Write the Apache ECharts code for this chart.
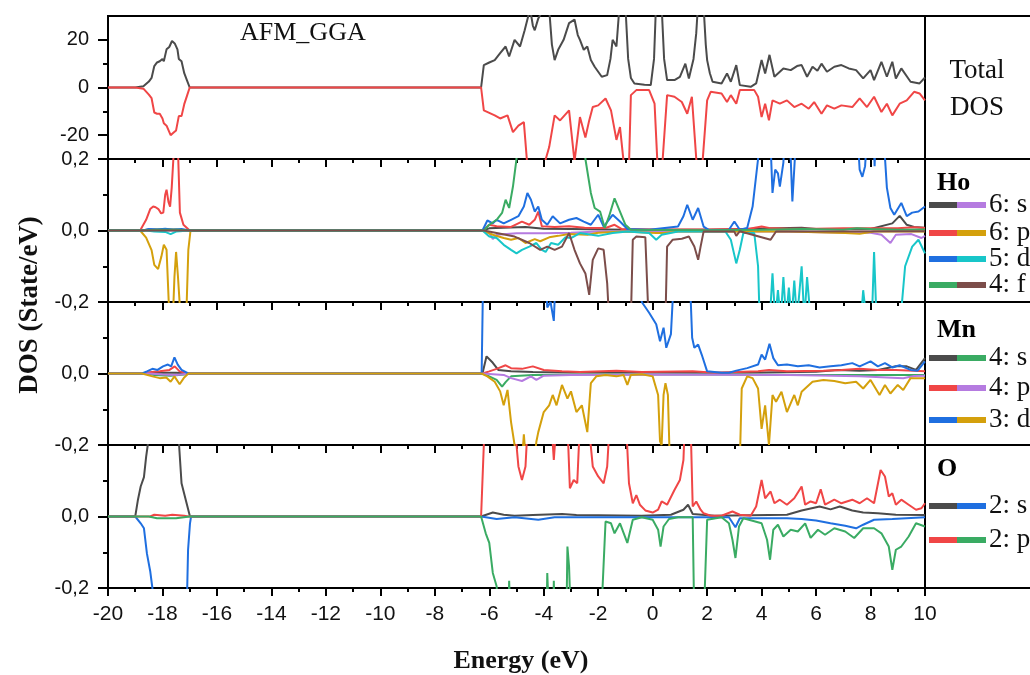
<!DOCTYPE html>
<html>
<head>
<meta charset="utf-8">
<script src="https://cdn.jsdelivr.net/npm/echarts@6/dist/echarts.min.js"></script>
<style>
  html, body { margin: 0; padding: 0; background: #fff; }
  #chart { width: 1030px; height: 675px; }
</style>
</head>
<body>
<div id="chart"></div>
<script>
// ---------- Data: [energy (eV), DOS] pairs ----------

// Total DOS (States/eV), spin up / spin down
const totalUp = [[-20,0],[-19.0,0],[-18.7,0.5],[-18.5,2.5],[-18.4,4],[-18.3,9],[-18.2,10.5],[-18.1,11],[-18.0,12],[-17.95,11],[-17.85,16],[-17.75,17],[-17.65,19.5],[-17.55,18.5],[-17.45,16],[-17.4,12],[-17.3,11],[-17.2,6],[-17.1,3],[-17.0,0],
  [-6.3,0],[-6.2,9.4],[-6.0,10.5],[-5.8,11.5],[-5.6,14.4],[-5.4,17.2],[-5.27,13],[-5.07,20],[-4.87,17.2],[-4.7,24],[-4.6,28.5],[-4.5,33],[-4.4,26],[-4.33,24],[-4.2,29],[-4.13,28.5],[-4.0,33],[-3.8,33],[-3.7,18],[-3.6,11.5],[-3.47,15.8],[-3.27,20],[-3.07,27],[-2.87,28.5],[-2.75,22],[-2.67,20],[-2.53,15.8],[-2.4,17.2],[-2.27,11.5],[-2.13,8.7],[-1.87,4.5],[-1.67,5.2],[-1.55,12],[-1.47,20],[-1.33,17.2],[-1.22,34],[-1.0,34],[-0.9,12],[-0.8,4],[-0.67,1.7],[-0.3,1.2],[-0.07,1],[0.05,12],[0.12,34],[0.33,34],[0.42,12],[0.53,3.1],[0.8,3.1],[1.0,4.5],[1.2,10],[1.33,3.8],[1.5,12],[1.6,22.8],[1.66,34],[1.87,34],[1.95,18],[2.0,11.5],[2.1,6],[2.2,2.4],[2.53,1.7],[2.73,5.9],[2.87,2.4],[3.07,9.4],[3.2,1],[3.6,0.3],[3.8,1.7],[4.0,11.5],[4.13,5.9],[4.29,13.7],[4.47,4.5],[4.8,8],[5.07,7.3],[5.3,9],[5.47,9.4],[5.67,4.5],[5.87,8.7],[6.05,7],[6.2,10],[6.4,6.6],[6.67,8.7],[6.93,9.4],[7.2,8],[7.47,7.3],[7.73,3.8],[8.0,7.3],[8.13,3.1],[8.4,10.8],[8.6,4.5],[8.8,10.8],[8.93,3.8],[9.13,8],[9.47,2.4],[9.8,1.7],[10,4.2]];
const totalDown = [[-20,0],[-19.0,0],[-18.7,-0.5],[-18.5,-3],[-18.4,-4.5],[-18.3,-10.5],[-18.2,-11],[-18.1,-11],[-18.0,-13],[-17.95,-15],[-17.85,-16],[-17.7,-20],[-17.6,-19],[-17.5,-18],[-17.4,-12],[-17.3,-12],[-17.2,-7],[-17.1,-3.5],[-17.0,0],
  [-6.3,0],[-6.2,-9.6],[-5.8,-11.7],[-5.6,-13],[-5.33,-11.7],[-5.13,-18.7],[-4.93,-16],[-4.73,-14.5],[-4.6,-33],[-4.0,-33],[-3.8,-25],[-3.6,-11.7],[-3.4,-13.8],[-3.07,-9.6],[-2.87,-31],[-2.67,-12.4],[-2.47,-21],[-2.33,-13.8],[-2.2,-8.2],[-2.0,-7.5],[-1.73,-4.6],[-1.53,-9.6],[-1.33,-22],[-1.2,-16.6],[-1.05,-33],[-0.87,-33],[-0.8,-3.2],[-0.6,-1.1],[-0.13,-1.1],[0.07,-6.8],[0.18,-33],[0.35,-33],[0.53,-3.2],[0.8,-3.9],[1.07,-6.1],[1.27,-11],[1.44,-3.9],[1.62,-33],[1.82,-33],[2.0,-5.4],[2.13,-1.8],[2.53,-2.5],[2.73,-6.1],[2.87,-3.2],[3.07,-6.8],[3.2,-1.1],[3.73,-1.1],[3.87,-3.9],[4.0,-12.4],[4.13,-6.8],[4.27,-13.8],[4.4,-5.4],[4.67,-6.8],[4.93,-5.4],[5.2,-8.2],[5.47,-6.8],[5.73,-8.9],[5.93,-6.1],[6.2,-11],[6.4,-7.5],[6.67,-8.9],[6.93,-7.5],[7.33,-8.2],[7.6,-4.6],[7.87,-8.2],[8.13,-3.9],[8.4,-10.3],[8.6,-6.8],[8.8,-11.7],[9.07,-6.8],[9.33,-5.4],[9.6,-1.8],[9.8,-2.5],[10,-5.4]];

// Ho partial DOS (up / down per orbital)
const hoSUp = [[-20,0],[-18.8,0],[-18.5,0.003],[-17.5,0.003],[-17.0,0],[-6.25,0],[-6.0,0.006],[-5.5,0.008],[-4.67,0.01],[-4.0,0.005],[-3.0,0.004],[-1.0,0.002],[2.0,0.002],[5.47,0.008],[6.0,0.004],[8.0,0.004],[8.8,0.02],[9.07,0.041],[9.33,0.016],[9.6,0.01],[10,0.008]];
const hoSDown = [[-20,0],[-6.25,0],[-6.0,-0.007],[-5.87,-0.024],[-5.73,-0.012],[-5.0,-0.008],[-4.0,-0.008],[-3.0,-0.006],[-2.0,-0.003],[0,-0.002],[5,-0.003],[7,-0.006],[8.0,-0.006],[8.4,-0.012],[8.73,-0.035],[8.93,-0.012],[9.5,-0.01],[9.87,-0.021],[10,-0.015]];
const hoPUp = [[-20,0],[-18.82,0],[-18.6,0.03],[-18.45,0.06],[-18.34,0.067],[-18.25,0.065],[-18.15,0.06],[-18.05,0.048],[-17.97,0.05],[-17.9,0.1],[-17.85,0.114],[-17.78,0.08],[-17.72,0.067],[-17.66,0.12],[-17.6,0.2],[-17.55,0.26],[-17.47,0.26],[-17.42,0.2],[-17.36,0.05],[-17.23,0.016],[-17.0,0],
  [-6.25,0],[-6.0,0.016],[-5.73,0.012],[-5.2,0.01],[-4.8,0.025],[-4.53,0.016],[-4.33,0.03],[-4.2,0.053],[-4.07,0.012],[-3.6,0.01],[-3.07,0.012],[-2.5,0.008],[-1.73,0.007],[-1.4,0.016],[-1.13,0.004],[0,0.003],[2.0,0.003],[3.5,0.004],[4.0,0.011],[4.27,0.007],[5.0,0.005],[6.0,0.005],[7.0,0.006],[8.0,0.006],[9.0,0.006],[9.6,0.009],[10,0.007]];
const hoPDown = [[-20,0],[-18.82,0],[-18.6,-0.02],[-18.4,-0.055],[-18.3,-0.096],[-18.16,-0.108],[-18.04,-0.073],[-17.95,-0.04],[-17.85,-0.054],[-17.77,-0.2],[-17.72,-0.25],[-17.62,-0.25],[-17.56,-0.13],[-17.5,-0.06],[-17.43,-0.13],[-17.33,-0.25],[-17.13,-0.25],[-17.05,-0.054],[-16.97,0],
  [-6.25,0],[-5.87,-0.012],[-5.47,-0.021],[-5.2,-0.026],[-4.93,-0.021],[-4.67,-0.035],[-4.33,-0.024],[-4.13,-0.03],[-3.8,-0.019],[-3.47,-0.015],[-3.07,-0.01],[-2.4,-0.012],[-2.0,-0.006],[-1.07,-0.003],[0.13,-0.007],[0.4,-0.007],[0.93,-0.003],[3,-0.002],[5,-0.003],[7.07,-0.007],[7.6,-0.009],[8.13,-0.003],[10,-0.003]];
const hoDUp = [[-20,0],[-18.7,0],[-18.5,0.004],[-18.2,0.003],[-17.9,0.005],[-17.6,0.002],[-17.3,0.004],[-17.0,0],
  [-6.25,0],[-6.07,0.028],[-5.87,0.02],[-5.73,0.03],[-5.47,0.02],[-5.2,0.03],[-4.93,0.04],[-4.73,0.067],[-4.6,0.105],[-4.47,0.086],[-4.33,0.053],[-4.2,0.067],[-4.07,0.03],[-3.87,0.016],[-3.67,0.04],[-3.4,0.02],[-3.07,0.03],[-2.8,0.035],[-2.53,0.025],[-2.27,0.016],[-2.0,0.044],[-1.8,0.011],[-1.47,0.044],[-1.2,0.025],[-0.93,0.004],[-0.13,0.002],[0.93,0.011],[1.13,0.04],[1.27,0.072],[1.47,0.03],[1.67,0.063],[1.87,0.011],[2.07,0.001],[2.8,0.002],[3.0,0.025],[3.2,0.002],[3.47,0.007],[3.67,0.067],[3.87,0.2],[3.95,0.3],[4.3,0.3],[4.4,0.105],[4.5,0.17],[4.6,0.16],[4.67,0.123],[4.8,0.19],[4.87,0.3],[5.0,0.3],[5.07,0.2],[5.13,0.081],[5.22,0.2],[5.3,0.3],[7.5,0.3],[7.6,0.17],[7.7,0.15],[7.8,0.18],[7.9,0.3],[8.1,0.3],[8.15,0.18],[8.2,0.3],[8.45,0.3],[8.6,0.12],[8.73,0.063],[8.87,0.044],[9.13,0.077],[9.33,0.04],[9.53,0.05],[9.76,0.053],[10,0.067]];
const hoDDown = [[-20,0],[-18.6,0],[-18.3,-0.003],[-17.9,-0.004],[-17.7,-0.01],[-17.5,-0.003],[-17.0,0],
  [-6.25,0],[-6.0,-0.017],[-5.73,-0.021],[-5.47,-0.04],[-5.2,-0.054],[-5.0,-0.064],[-4.8,-0.054],[-4.53,-0.045],[-4.27,-0.035],[-4.07,-0.054],[-3.93,-0.06],[-3.73,-0.035],[-3.47,-0.04],[-3.2,-0.019],[-3.0,-0.021],[-2.67,-0.007],[-2.0,-0.015],[-1.47,-0.007],[-0.93,-0.003],[-0.13,-0.007],[0.13,-0.026],[0.33,-0.012],[0.93,-0.003],[2.67,-0.003],[2.87,-0.026],[3.07,-0.092],[3.2,-0.054],[3.33,-0.007],[3.73,-0.007],[3.87,-0.1],[3.93,-0.25],[4.3,-0.25],[4.4,-0.12],[4.5,-0.25],[4.6,-0.167],[4.7,-0.25],[4.8,-0.13],[4.9,-0.25],[5.0,-0.16],[5.1,-0.25],[5.2,-0.14],[5.3,-0.25],[5.47,-0.1],[5.57,-0.25],[5.67,-0.13],[5.8,-0.25],[7.65,-0.25],[7.73,-0.167],[7.85,-0.25],[8.05,-0.25],[8.13,-0.06],[8.22,-0.25],[9.1,-0.25],[9.27,-0.1],[9.53,-0.045],[9.76,-0.026],[10,-0.064]];
const hoFUp = [[-20,0],[-18.7,0],[-18.2,0.002],[-17.4,0.002],[-17.0,0],
  [-6.2,0],[-6.0,0.016],[-5.73,0.03],[-5.53,0.049],[-5.4,0.086],[-5.27,0.063],[-5.13,0.123],[-5.0,0.2],[-4.9,0.3],[-2.55,0.3],[-2.47,0.2],[-2.27,0.105],[-2.13,0.063],[-1.93,0.053],[-1.76,0.007],[-1.6,0.04],[-1.4,0.09],[-1.2,0.053],[-1.0,0.016],[-0.8,0.002],[2,0.001],[4,0.002],[5.5,0.004],[7.0,0.002],[7.5,0.006],[8.0,0.004],[9.0,0.002],[10,0.003]];
const hoFDown = [[-20,0],[-6.2,0],[-5.73,-0.007],[-5.07,-0.017],[-4.53,-0.035],[-4.13,-0.054],[-3.87,-0.045],[-3.6,-0.054],[-3.33,-0.045],[-3.07,-0.007],[-2.87,-0.054],[-2.67,-0.092],[-2.47,-0.12],[-2.33,-0.18],[-2.2,-0.082],[-2.0,-0.05],[-1.8,-0.054],[-1.67,-0.148],[-1.6,-0.25],[-0.8,-0.25],[-0.73,-0.026],[-0.6,-0.017],[-0.27,-0.019],[-0.15,-0.25],[0.47,-0.25],[0.53,-0.045],[0.73,-0.026],[1.07,-0.023],[1.33,-0.017],[1.53,-0.045],[1.67,-0.082],[1.76,-0.045],[1.87,-0.003],[3.0,-0.003],[3.07,-0.015],[3.2,-0.002],[4.33,-0.026],[4.53,-0.003],[10,-0.002]];

// Mn partial DOS
const mnSUp = [[-20,0],[-18.75,0],[-18.5,0.002],[-17.5,0.002],[-17.0,0],[-6.25,0],[-6.1,0.048],[-5.87,0.03],[-5.67,0.01],[-5.2,0.006],[-4.4,0.004],[-3,0.003],[0,0.003],[2,0.002],[4,0.003],[6,0.005],[6.8,0.01],[7.6,0.008],[8.27,0.01],[8.93,0.02],[9.33,0.02],[9.67,0.01],[10,0.043]];
const mnSDown = [[-20,0],[-18.6,0],[-18.3,-0.004],[-17.7,-0.006],[-17.2,-0.003],[-17.0,0],[-6.25,0],[-6.0,-0.008],[-5.73,-0.018],[-5.53,-0.037],[-5.4,-0.024],[-5.2,-0.008],[-4.4,-0.004],[-2,-0.003],[2,-0.003],[6,-0.004],[10,-0.004]];
const mnPUp = [[-20,0],[-18.75,0],[-18.4,0.004],[-18.1,0.006],[-17.74,0.01],[-17.55,0.02],[-17.37,0.006],[-17.05,0],[-6.25,0],[-6.0,0.006],[-5.73,0.013],[-5.4,0.023],[-5.2,0.015],[-4.8,0.013],[-4.4,0.02],[-4.0,0.01],[-3.33,0.006],[-2.67,0.004],[-1.33,0.008],[-0.4,0.004],[1.47,0.006],[2.27,0.002],[3.87,0.006],[4.27,0.01],[4.93,0.006],[6.27,0.008],[6.93,0.01],[7.6,0.013],[8.27,0.01],[8.93,0.01],[10,0.006]];
const mnPDown = [[-20,0],[-18.5,0],[-18.0,-0.003],[-17.5,-0.004],[-17.0,0],[-6.25,0],[-5.47,-0.004],[-5.2,-0.013],[-4.8,-0.021],[-4.47,-0.008],[-4.27,-0.018],[-4.0,-0.006],[-3.0,-0.004],[0,-0.003],[5,-0.004],[7.6,-0.008],[9.2,-0.013],[9.6,-0.007],[10,-0.006]];
const mnDUp = [[-20,0],[-18.75,0],[-18.57,0.006],[-18.37,0.013],[-18.18,0.01],[-17.98,0.02],[-17.8,0.025],[-17.68,0.02],[-17.56,0.045],[-17.44,0.025],[-17.3,0.01],[-17.05,0],
  [-6.28,0],[-6.22,0.3],[-3.95,0.3],[-3.87,0.185],[-3.75,0.2],[-3.63,0.147],[-3.55,0.3],[-0.45,0.3],[-0.4,0.2],[-0.13,0.17],[0.13,0.138],[0.27,0.09],[0.4,0.128],[0.5,0.072],[0.67,0.11],[0.8,0.3],[1.35,0.3],[1.45,0.1],[1.53,0.072],[1.67,0.081],[1.8,0.053],[2.0,0.006],[2.53,0.002],[2.8,0.002],[3.07,0.008],[3.47,0.015],[3.87,0.025],[4.0,0.053],[4.13,0.039],[4.29,0.083],[4.43,0.043],[4.6,0.023],[4.93,0.025],[5.33,0.02],[5.73,0.023],[6.13,0.017],[6.53,0.02],[6.93,0.023],[7.33,0.029],[7.6,0.02],[8.0,0.034],[8.27,0.02],[8.53,0.029],[8.8,0.017],[9.07,0.023],[9.47,0.01],[9.73,0.008],[10,0.034]];
const mnDDown = [[-20,0],[-18.75,0],[-18.37,-0.008],[-18.1,-0.013],[-17.86,-0.011],[-17.7,-0.023],[-17.56,-0.008],[-17.37,-0.03],[-17.2,-0.011],[-17.05,0],
  [-6.28,0],[-6.07,-0.008],[-5.8,-0.023],[-5.6,-0.05],[-5.47,-0.089],[-5.33,-0.046],[-5.2,-0.136],[-5.07,-0.2],[-5.0,-0.25],[-4.8,-0.25],[-4.73,-0.17],[-4.65,-0.25],[-4.35,-0.25],[-4.27,-0.19],[-4.2,-0.164],[-4.0,-0.108],[-3.8,-0.089],[-3.67,-0.06],[-3.53,-0.089],[-3.33,-0.032],[-3.13,-0.07],[-3.0,-0.05],[-2.8,-0.108],[-2.6,-0.089],[-2.4,-0.164],[-2.27,-0.027],[-2.07,-0.008],[-1.73,-0.004],[-1.33,-0.008],[-1.07,-0.004],[-0.93,-0.032],[-0.8,-0.004],[-0.4,-0.002],[0.0,-0.008],[0.2,-0.06],[0.27,-0.19],[0.33,-0.2],[0.4,-0.06],[0.47,-0.027],[0.56,-0.06],[0.63,-0.25],[3.2,-0.25],[3.27,-0.042],[3.47,-0.008],[3.67,-0.013],[3.87,-0.042],[4.0,-0.155],[4.13,-0.089],[4.27,-0.2],[4.4,-0.06],[4.53,-0.079],[4.73,-0.051],[4.93,-0.108],[5.2,-0.06],[5.33,-0.089],[5.47,-0.051],[5.67,-0.037],[5.87,-0.023],[6.27,-0.018],[6.67,-0.021],[7.07,-0.027],[7.47,-0.023],[7.73,-0.042],[8.0,-0.018],[8.33,-0.06],[8.53,-0.032],[8.73,-0.056],[9.0,-0.032],[9.2,-0.046],[9.47,-0.013],[10,-0.013]];

// O partial DOS
const oSUp = [[-20,0],[-19.0,0],[-18.9,0.047],[-18.8,0.084],[-18.68,0.11],[-18.6,0.167],[-18.54,0.2],[-18.45,0.3],[-17.45,0.3],[-17.39,0.2],[-17.3,0.093],[-17.13,0.042],[-16.99,0],
  [-6.3,0],[-5.87,0.011],[-5.47,0.005],[-5.07,0.002],[-4.4,0.004],[-3.33,0.007],[-2.8,0.004],[-0.4,0.002],[0.67,0.005],[1.13,0.019],[1.3,0.033],[1.47,0.007],[2.27,0.002],[4.93,0.005],[5.47,0.017],[6.13,0.028],[6.53,0.02],[6.87,0.028],[7.33,0.017],[7.73,0.011],[8.27,0.009],[8.93,0.005],[10,0.004]];
const oSDown = [[-20,0],[-19.0,0],[-18.8,-0.019],[-18.68,-0.033],[-18.57,-0.104],[-18.45,-0.153],[-18.37,-0.2],[-18.3,-0.3],[-17.12,-0.3],[-17.06,-0.093],[-16.99,-0.02],[-16.95,0],
  [-6.3,0],[-5.73,-0.007],[-5.07,-0.002],[-4.2,-0.009],[-3.6,-0.002],[-0.4,-0.002],[2.8,-0.002],[3.04,-0.03],[3.2,-0.005],[4.93,-0.005],[5.47,-0.007],[6.0,-0.011],[6.53,-0.019],[7.07,-0.026],[7.47,-0.033],[7.73,-0.023],[8.13,-0.009],[8.8,-0.007],[10,-0.002]];
const oPUp = [[-20,0],[-18.45,0],[-18.3,0.005],[-17.9,0.002],[-17.64,0.005],[-17.2,0.002],[-17.05,0],
  [-6.3,0],[-6.2,0.2],[-6.15,0.3],[-5.1,0.3],[-5.0,0.2],[-4.93,0.14],[-4.8,0.102],[-4.67,0.14],[-4.56,0.3],[-3.75,0.3],[-3.63,0.158],[-3.5,0.3],[-3.15,0.3],[-3.04,0.079],[-2.9,0.102],[-2.77,0.093],[-2.65,0.3],[-2.4,0.3],[-2.2,0.14],[-2.0,0.112],[-1.8,0.093],[-1.67,0.14],[-1.55,0.3],[-1.0,0.3],[-0.87,0.093],[-0.73,0.037],[-0.6,0.06],[-0.47,0.033],[-0.27,0.017],[0.0,0.011],[0.2,0.019],[0.33,0.042],[0.53,0.033],[0.8,0.074],[1.0,0.102],[1.13,0.158],[1.2,0.3],[1.38,0.3],[1.47,0.028],[1.6,0.042],[1.76,0.019],[1.87,0.009],[2.13,0.002],[2.53,0.002],[2.93,0.014],[3.2,0.005],[3.6,0.002],[3.8,0.028],[4.0,0.102],[4.13,0.051],[4.33,0.07],[4.47,0.037],[4.67,0.047],[4.93,0.033],[5.2,0.051],[5.47,0.084],[5.6,0.033],[5.8,0.042],[6.0,0.037],[6.17,0.076],[6.33,0.033],[6.67,0.047],[6.93,0.037],[7.33,0.047],[7.6,0.037],[7.87,0.051],[8.13,0.037],[8.37,0.13],[8.53,0.112],[8.67,0.056],[8.8,0.065],[8.93,0.033],[9.13,0.047],[9.4,0.033],[9.67,0.019],[9.87,0.023],[10,0.037]];
const oPDown = [[-20,0],[-18.5,0],[-18.2,-0.005],[-17.5,-0.005],[-17.0,0],
  [-6.3,0],[-6.13,-0.047],[-6.0,-0.074],[-5.87,-0.158],[-5.73,-0.195],[-5.65,-0.3],[-5.3,-0.3],[-5.27,-0.18],[-5.22,-0.3],[-3.9,-0.3],[-3.87,-0.158],[-3.8,-0.3],[-3.65,-0.3],[-3.63,-0.18],[-3.6,-0.3],[-3.17,-0.3],[-3.13,-0.084],[-3.07,-0.14],[-3.0,-0.3],[-1.9,-0.3],[-1.73,-0.014],[-1.53,-0.019],[-1.4,-0.047],[-1.2,-0.019],[-0.93,-0.074],[-0.73,-0.009],[-0.4,-0.002],[0.0,-0.009],[0.2,-0.037],[0.29,-0.084],[0.4,-0.028],[0.6,-0.007],[0.93,-0.002],[1.47,-0.002],[1.53,-0.3],[1.87,-0.3],[2.0,-0.009],[2.53,-0.002],[2.8,-0.019],[2.93,-0.065],[3.04,-0.116],[3.17,-0.028],[3.33,-0.005],[4.0,-0.019],[4.2,-0.065],[4.31,-0.121],[4.43,-0.037],[4.6,-0.023],[4.8,-0.056],[5.07,-0.037],[5.33,-0.042],[5.6,-0.019],[5.8,-0.06],[6.07,-0.037],[6.33,-0.051],[6.67,-0.033],[7.07,-0.042],[7.4,-0.06],[7.73,-0.033],[8.13,-0.033],[8.4,-0.047],[8.67,-0.084],[8.8,-0.149],[8.93,-0.093],[9.13,-0.084],[9.4,-0.056],[9.67,-0.019],[10,-0.028]];

// Axis ranges and tick label values
const energyRange = [-20, 10];
const totalRange = [-30, 30];
const totalLabelValues = [-20, 0, 20];
const totalMinorValues = [-10, 10];
const pdosRange = [-0.2, 0.2];

// ---------- Styling ----------
const COL = {
  gray: '#4b4b4b', red: '#f04646', violet: '#b57be0', gold: '#d4a00c',
  blue: '#1f6fe0', cyan: '#18c6c9', green: '#3aab63', brown: '#7c4d4a'
};
const SANS = '"Liberation Sans", Arial, sans-serif';
const SERIF = '"Liberation Serif", "Times New Roman", serif';
const PLOT_LEFT = 108, PLOT_RIGHT_PX = 925, CHART_W = 1030;
const PANEL_TOPS = [16, 159, 302, 445];
const PANEL_H = 143;

const chart = echarts.init(document.getElementById('chart'), null, { renderer: 'canvas' });

const grids = PANEL_TOPS.map(t => ({
  left: PLOT_LEFT, right: CHART_W - PLOT_RIGHT_PX, top: t, height: PANEL_H,
  show: true, borderColor: '#000', borderWidth: 2, backgroundColor: 'transparent'
}));

const xAxes = PANEL_TOPS.map((_, i) => ({
  type: 'value', gridIndex: i, position: 'bottom',
  min: energyRange[0], max: energyRange[1], interval: 2,
  axisLine: { show: true, onZero: false, lineStyle: { color: '#000', width: 2 } },
  axisTick: { show: true, length: 8, lineStyle: { color: '#000', width: 2 } },
  minorTick: { show: true, splitNumber: 2, length: 4, lineStyle: { color: '#000', width: 2 } },
  splitLine: { show: false },
  axisLabel: {
    show: i === 3, fontFamily: SANS, fontSize: 21, color: '#111', margin: 16
  }
}));

const decimalComma = v => (Math.abs(v) < 1e-9 ? 0 : v).toFixed(1).replace('.', ',');

const yAxes = [
  // Total DOS: labelled major ticks
  {
    type: 'value', gridIndex: 0, position: 'left', min: totalRange[0], max: totalRange[1], interval: 10,
    axisLine: { show: true, onZero: false, lineStyle: { color: '#000', width: 2 } },
    axisTick: { show: true, customValues: totalLabelValues, length: 10, lineStyle: { color: '#000', width: 2 } },
    axisLabel: { customValues: totalLabelValues, fontFamily: SANS, fontSize: 20, color: '#111', margin: 19,
      formatter: v => String(v) },
    splitLine: { show: false }
  },
  // Total DOS: short minor ticks
  {
    type: 'value', gridIndex: 0, position: 'left', min: totalRange[0], max: totalRange[1], interval: 10,
    axisLine: { show: true, onZero: false, lineStyle: { color: '#000', width: 2 } },
    axisTick: { show: true, customValues: totalMinorValues, length: 5, lineStyle: { color: '#000', width: 2 } },
    axisLabel: { show: false },
    splitLine: { show: false }
  }
];
[1, 2, 3].forEach(i => {
  yAxes.push({
    type: 'value', gridIndex: i, position: 'left', min: pdosRange[0], max: pdosRange[1], interval: 0.2,
    axisLine: { show: true, onZero: false, lineStyle: { color: '#000', width: 2 } },
    axisTick: { show: true, length: 10, lineStyle: { color: '#000', width: 2 } },
    minorTick: { show: true, splitNumber: 2, length: 5, lineStyle: { color: '#000', width: 2 } },
    axisLabel: {
      fontFamily: SANS, fontSize: 20, color: '#111', margin: 19,
      // the upper limit is labelled only on the Ho panel
      formatter: v => (i > 1 && v > 0.1) ? '' : decimalComma(v)
    },
    splitLine: { show: false }
  });
});

function curve(name, data, color, panel) {
  const yIndex = panel === 0 ? 0 : panel + 1;
  return {
    name, type: 'line', data, xAxisIndex: panel, yAxisIndex: yIndex,
    showSymbol: false, symbol: 'none', clip: true, animation: false,
    lineStyle: { color, width: 2 }, itemStyle: { color }
  };
}

const series = [
  curve('Total up', totalUp, COL.gray, 0),
  curve('Total down', totalDown, COL.red, 0),

  curve('Ho 6s up', hoSUp, COL.gray, 1),
  curve('Ho 6s down', hoSDown, COL.violet, 1),
  curve('Ho 6p up', hoPUp, COL.red, 1),
  curve('Ho 6p down', hoPDown, COL.gold, 1),
  curve('Ho 5d up', hoDUp, COL.blue, 1),
  curve('Ho 5d down', hoDDown, COL.cyan, 1),
  curve('Ho 4f up', hoFUp, COL.green, 1),
  curve('Ho 4f down', hoFDown, COL.brown, 1),

  curve('Mn 4s up', mnSUp, COL.gray, 2),
  curve('Mn 4s down', mnSDown, COL.green, 2),
  curve('Mn 4p up', mnPUp, COL.red, 2),
  curve('Mn 4p down', mnPDown, COL.violet, 2),
  curve('Mn 3d up', mnDUp, COL.blue, 2),
  curve('Mn 3d down', mnDDown, COL.gold, 2),

  curve('O 2s up', oSUp, COL.gray, 3),
  curve('O 2s down', oSDown, COL.blue, 3),
  curve('O 2p up', oPUp, COL.red, 3),
  curve('O 2p down', oPDown, COL.green, 3)
];

// ---------- Side legend column ----------
const legendBlocks = [
  { title: 'Ho', titleY: 183, entries: [
    { text: '6: s', y: 205, a: COL.gray, b: COL.violet },
    { text: '6: p', y: 233, a: COL.red, b: COL.gold },
    { text: '5: d', y: 259, a: COL.blue, b: COL.cyan },
    { text: '4: f', y: 285, a: COL.green, b: COL.brown } ] },
  { title: 'Mn', titleY: 330, entries: [
    { text: '4: s', y: 358, a: COL.gray, b: COL.green },
    { text: '4: p', y: 388, a: COL.red, b: COL.violet },
    { text: '3: d', y: 420, a: COL.blue, b: COL.gold } ] },
  { title: 'O', titleY: 469, entries: [
    { text: '2: s', y: 506, a: COL.gray, b: COL.blue },
    { text: '2: p', y: 540, a: COL.red, b: COL.green } ] }
];

const graphics = [];
// horizontal rules of the legend column
[16, 159, 302, 445, 588].forEach(y => graphics.push({
  type: 'line', shape: { x1: PLOT_RIGHT_PX, y1: y, x2: CHART_W, y2: y },
  style: { stroke: '#000', lineWidth: 2 }, z: 10
}));
graphics.push({ type: 'text', x: 977, y: 71, style: { text: 'Total', font: '27px ' + SERIF, fill: '#111', align: 'center', verticalAlign: 'middle' } });
graphics.push({ type: 'text', x: 977, y: 108, style: { text: 'DOS', font: '27px ' + SERIF, fill: '#111', align: 'center', verticalAlign: 'middle' } });

legendBlocks.forEach(block => {
  graphics.push({ type: 'text', x: 937, y: block.titleY,
    style: { text: block.title, font: 'bold 26px ' + SERIF, fill: '#000', align: 'left', verticalAlign: 'middle' } });
  block.entries.forEach(e => {
    graphics.push({ type: 'rect', shape: { x: 929, y: e.y - 3, width: 28, height: 6 }, style: { fill: e.a } });
    graphics.push({ type: 'rect', shape: { x: 957, y: e.y - 3, width: 29, height: 6 }, style: { fill: e.b } });
    graphics.push({ type: 'text', x: 989, y: e.y,
      style: { text: e.text, font: '27px ' + SERIF, fill: '#111', align: 'left', verticalAlign: 'middle' } });
  });
});

// titles
graphics.push({ type: 'text', x: 240, y: 33, style: { text: 'AFM_GGA', font: '26px ' + SERIF, fill: '#111', align: 'left', verticalAlign: 'middle' } });
graphics.push({ type: 'text', x: 521, y: 661, style: { text: 'Energy (eV)', font: 'bold 26px ' + SERIF, fill: '#111', align: 'center', verticalAlign: 'middle' } });
graphics.push({ type: 'text', x: 30, y: 305, rotation: Math.PI / 2,
  style: { text: 'DOS (State/eV)', font: 'bold 27px ' + SERIF, fill: '#111', align: 'center', verticalAlign: 'middle' } });

chart.setOption({
  animation: false,
  backgroundColor: '#fff',
  grid: grids,
  xAxis: xAxes,
  yAxis: yAxes,
  series,
  graphic: graphics
});
</script>
</body>
</html>
